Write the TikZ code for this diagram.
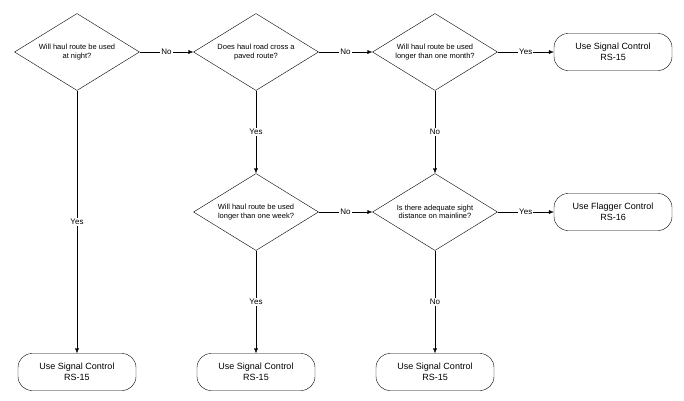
\documentclass[tikz,border=0pt]{standalone}
\usepackage{fontspec}
\setmainfont{Liberation Sans}
\usetikzlibrary{shapes.geometric,arrows.meta}
\tikzset{
  dec/.style={draw,diamond,aspect=1.63,minimum width=125pt,minimum height=77pt,inner sep=0pt,align=center,font=\fontsize{7.5}{8.5}\selectfont},
  term/.style={draw,rounded corners=14pt,minimum width=118pt,minimum height=37pt,align=center,font=\fontsize{9}{10.5}\selectfont},
  arr/.style={-{Latex[length=5pt,width=4pt]}},
  lbl/.style={fill=white,inner sep=1pt,font=\fontsize{8}{9}\selectfont}
}
\begin{document}
\begin{tikzpicture}[x=1pt,y=-1pt]
\useasboundingbox (0,0) rectangle (684,400);
\node[dec] (night) at (77,52) {Will haul route be used\\at night?};
\node[dec] (paved) at (256,52) {Does haul road cross a\\paved route?};
\node[dec] (month) at (435,52) {Will haul route be used\\longer than one month?};
\node[dec] (week) at (256,212) {Will haul route be used\\longer than one week?};
\node[dec] (sight) at (435,212) {Is there adequate sight\\distance on mainline?};
\node[term] (sigA) at (613,52) {Use Signal Control\\RS-15};
\node[term] (flag) at (613,212) {Use Flagger Control\\RS-16};
\node[term] (sigB) at (77,372) {Use Signal Control\\RS-15};
\node[term] (sigC) at (256,372) {Use Signal Control\\RS-15};
\node[term] (sigD) at (435,372) {Use Signal Control\\RS-15};
% connectors
\draw[arr] (night) -- node[lbl] {No} (paved);
\draw[arr] (paved) -- node[lbl] {No} (month);
\draw[arr] (month) -- node[lbl] {Yes} (sigA);
\draw[arr] (night) -- node[lbl] {Yes} (sigB);
\draw[arr] (paved) -- node[lbl] {Yes} (week);
\draw[arr] (month) -- node[lbl] {No} (sight);
\draw[arr] (week) -- node[lbl] {No} (sight);
\draw[arr] (sight) -- node[lbl] {Yes} (flag);
\draw[arr] (week) -- node[lbl] {Yes} (sigC);
\draw[arr] (sight) -- node[lbl] {No} (sigD);
\end{tikzpicture}
\end{document}
